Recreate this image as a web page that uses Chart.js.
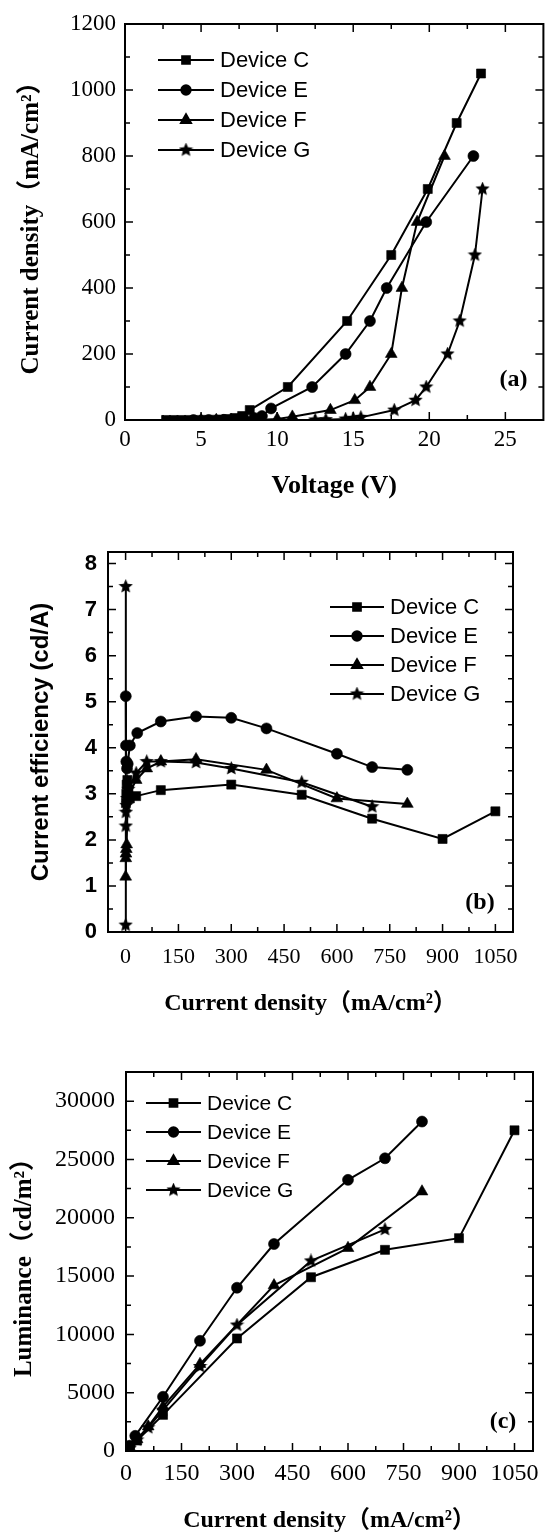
<!DOCTYPE html>
<html>
<head>
<meta charset="utf-8">
<script src="https://cdn.jsdelivr.net/npm/chart.js@4.4.0/dist/chart.umd.min.js"></script>
<style>
html,body{margin:0;padding:0;background:#fff;}
body{width:551px;height:1533px;position:relative;overflow:hidden;}
canvas{position:absolute;left:0;}
</style>
</head>
<body>
<canvas id="cA" width="551" height="515" style="top:0"></canvas>
<canvas id="cB" width="551" height="510" style="top:515px"></canvas>
<canvas id="cC" width="551" height="508" style="top:1025px"></canvas>
<script>
const devices = ['Device C', 'Device E', 'Device F', 'Device G'];

// (a) current density vs voltage
const vC = [2.7, 3.2, 3.7, 4.2, 4.7, 5.2, 5.7, 6.2, 6.7, 7.2, 7.7, 8.2, 10.7, 14.6, 17.5, 19.9, 21.8, 23.4];
const jvC = [0, 0, 0, 0.1, 0.2, 0.4, 0.8, 1.5, 3, 6, 12, 30, 100, 300, 500, 700, 900, 1050];
const vE = [4.5, 5.5, 6.5, 7.5, 8.5, 9.0, 9.6, 12.3, 14.5, 16.1, 17.2, 19.8, 22.9];
const jvE = [0, 0.1, 0.5, 2, 6, 12, 35, 100, 200, 300, 400, 600, 800];
const vF = [5, 6, 7, 8, 9, 10, 11, 13.5, 15.1, 16.1, 17.5, 18.2, 19.2, 21.0];
const jvF = [0, 0, 0, 0.5, 1, 3, 10, 30, 60, 100, 200, 400, 600, 800];
const vG = [12.5, 13.2, 14.5, 15.0, 15.5, 17.7, 19.1, 19.8, 21.2, 22.0, 23.0, 23.5];
const jvG = [0, 1, 3, 5, 8, 30, 60, 100, 200, 300, 500, 700];
const voltTicks = [0, 5, 10, 15, 20, 25];
const jTicksA = [0, 200, 400, 600, 800, 1000, 1200];

// (b) current efficiency vs current density
const bjC = [1, 2, 3, 5, 8, 12, 30, 100, 300, 500, 700, 900, 1050];
const effC = [2.8, 3.0, 3.2, 3.3, 3.1, 2.9, 2.95, 3.08, 3.2, 2.98, 2.46, 2.02, 2.62];
const bjE = [0.5, 1, 2, 4, 6, 12, 33, 100, 200, 300, 400, 600, 700, 800];
const effE = [5.12, 4.05, 3.7, 3.55, 3.65, 4.05, 4.32, 4.57, 4.68, 4.65, 4.42, 3.87, 3.58, 3.52];
const bjF = [0.2, 0.5, 1, 2, 3, 6, 10, 30, 60, 100, 200, 400, 600, 800];
const effF = [1.2, 1.6, 1.7, 1.8, 1.9, 2.9, 3.0, 3.3, 3.55, 3.7, 3.75, 3.52, 2.9, 2.78];
const bjG = [0.1, 0.3, 0.6, 1, 2, 4, 8, 30, 60, 100, 200, 300, 500, 700];
const effG = [0.15, 7.5, 2.3, 2.6, 2.75, 2.9, 3.1, 3.45, 3.7, 3.7, 3.68, 3.55, 3.25, 2.72];
const effTicks = [0, 1, 2, 3, 4, 5, 6, 7, 8];
const jTicksB = [0, 150, 300, 450, 600, 750, 900, 1050];

// (c) luminance vs current density
const cjC = [10, 30, 100, 300, 500, 700, 900, 1050];
const lumC = [350, 900, 3100, 9650, 14900, 17250, 18250, 27500];
const cjE = [10, 25, 100, 200, 300, 400, 600, 700, 800];
const lumE = [450, 1300, 4650, 9450, 14000, 17750, 23250, 25100, 28250];
const cjF = [10, 30, 60, 100, 200, 400, 600, 800];
const lumF = [300, 1000, 2100, 3800, 7450, 14200, 17400, 22250];
const cjG = [10, 30, 60, 100, 200, 300, 500, 700];
const lumG = [250, 950, 2000, 3500, 7250, 10800, 16300, 19000];
const lumTicks = [0, 5000, 10000, 15000, 20000, 25000, 30000];

const SERIF = "'Liberation Serif', 'Noto Sans CJK SC', serif";
const SANS = "'Liberation Sans', Arial, sans-serif";

function makeStar(size) {
  const c = document.createElement('canvas');
  c.width = c.height = size;
  const g = c.getContext('2d');
  const r = size / 2, ri = r * 0.45;
  g.beginPath();
  for (let i = 0; i < 10; i++) {
    const a = -Math.PI / 2 + i * Math.PI / 5;
    const rr = i % 2 ? ri : r;
    g.lineTo(r + rr * Math.cos(a), r + rr * Math.sin(a));
  }
  g.closePath();
  g.fillStyle = '#000';
  g.fill();
  return c;
}
const star = makeStar(15);
const marks = [
  {pointStyle: 'rect', pointRadius: 6.4},
  {pointStyle: 'circle', pointRadius: 5.5},
  {pointStyle: 'triangle', pointRadius: 6.8},
  {pointStyle: star, pointRadius: 7},
];

function series(xs, ys, i) {
  return Object.assign({
    label: devices[i],
    data: xs.map((x, k) => ({x: x, y: ys[k]})),
    showLine: true, tension: 0,
    borderColor: '#000', backgroundColor: '#000', borderWidth: 2,
    pointBackgroundColor: '#000', pointBorderColor: '#000', pointBorderWidth: 0.6,
  }, marks[i]);
}

function axis(o) {
  return {
    type: 'linear', position: o.pos, min: o.min, max: o.max,
    grid: {display: false, drawTicks: false}, border: {display: false},
    afterBuildTicks: s => { s.ticks = o.ticks.map(v => ({value: v})); },
    afterFit: s => {
      if (o.pos === 'left') s.width = o.size; else s.height = o.size;
      s.paddingLeft = s.paddingRight = s.paddingTop = s.paddingBottom = 0;
    },
    ticks: {autoSkip: false, maxRotation: 0, color: '#000', padding: o.pad, font: o.tickFont, callback: v => String(v)},
    title: {display: true, text: o.title, color: '#000', font: o.titleFont, padding: o.titlePad},
  };
}

// box, inward ticks, legend and panel tag
const framePlugin = {
  id: 'frame',
  afterDraw(chart, args, opts) {
    const {ctx, chartArea: a, scales: {x, y}} = chart;
    const tickSet = s => {
      const v = s.ticks.map(t => t.value), out = [];
      v.forEach((t, i) => { out.push([t, 8]); if (i < v.length - 1) out.push([(t + v[i + 1]) / 2, 5]); });
      const step = v[1] - v[0];
      if (v[v.length - 1] + step / 2 < s.max) out.push([v[v.length - 1] + step / 2, 5]);
      if (v[0] - step / 2 > s.min) out.push([v[0] - step / 2, 5]);
      return out;
    };
    ctx.save();
    ctx.strokeStyle = '#000';
    ctx.lineWidth = 1.5;
    ctx.beginPath();
    tickSet(x).forEach(([v, len]) => {
      const p = x.getPixelForValue(v);
      ctx.moveTo(p, a.bottom); ctx.lineTo(p, a.bottom - len);
      ctx.moveTo(p, a.top); ctx.lineTo(p, a.top + len);
    });
    tickSet(y).forEach(([v, len]) => {
      const p = y.getPixelForValue(v);
      ctx.moveTo(a.left, p); ctx.lineTo(a.left + len, p);
      ctx.moveTo(a.right, p); ctx.lineTo(a.right - len, p);
    });
    ctx.stroke();
    ctx.lineWidth = 2;
    ctx.strokeRect(a.left, a.top, a.right - a.left, a.bottom - a.top);

    // legend
    const L = opts.legend;
    ctx.font = L.size + 'px ' + SANS;
    ctx.textBaseline = 'middle';
    ctx.textAlign = 'left';
    chart.data.datasets.forEach((ds, i) => {
      const yy = L.y + i * L.dy;
      ctx.lineWidth = 2;
      ctx.beginPath();
      ctx.moveTo(L.x, yy); ctx.lineTo(L.x + L.len, yy);
      ctx.stroke();
      ctx.fillStyle = '#000';
      Chart.helpers.drawPoint(ctx, {pointStyle: ds.pointStyle, radius: ds.pointRadius * 0.85, rotation: 0, borderWidth: 0.6}, L.x + L.len / 2, yy);
      ctx.fillStyle = '#000';
      ctx.fillText(ds.label, L.x + L.len + 6, yy + 1);
    });

    // panel tag
    const T = opts.tag;
    ctx.font = 'bold 24px ' + SERIF;
    ctx.textAlign = 'center';
    ctx.fillText(T.text, a.right + T.dx, a.bottom + T.dy);
    ctx.restore();
  }
};

function make(id, datasets, xAxis, yAxis, pad, legend, tag) {
  return new Chart(document.getElementById(id), {
    type: 'scatter',
    data: {datasets: datasets},
    options: {
      responsive: false, animation: false, devicePixelRatio: 1, events: [],
      layout: {padding: pad},
      scales: {x: xAxis, y: yAxis},
      plugins: {legend: {display: false}, tooltip: {enabled: false}, frame: {legend: legend, tag: tag}},
    },
    plugins: [framePlugin],
  });
}

make('cA',
  [series(vC, jvC, 0), series(vE, jvE, 1), series(vF, jvF, 2), series(vG, jvG, 3)],
  axis({pos: 'bottom', min: 0, max: 27.5, ticks: voltTicks, size: 95, pad: 6,
    tickFont: {family: SERIF, size: 23}, title: 'Voltage (V)',
    titleFont: {family: SERIF, size: 26, weight: 'bold'}, titlePad: {top: 0, bottom: 13}}),
  axis({pos: 'left', min: 0, max: 1200, ticks: jTicksA, size: 125, pad: 9,
    tickFont: {family: SERIF, size: 23}, title: 'Current density（mA/cm²）',
    titleFont: {family: SERIF, size: 25, weight: 'bold'}, titlePad: {top: 17, bottom: 0}}),
  {left: 0, right: 3, top: 24, bottom: 0},
  {x: 158, y: 60, dy: 30, len: 56, size: 22},
  {text: '(a)', dx: -30, dy: -40});

make('cB',
  [series(bjC, effC, 0), series(bjE, effE, 1), series(bjF, effF, 2), series(bjG, effG, 3)],
  axis({pos: 'bottom', min: -50, max: 1100, ticks: jTicksB, size: 93, pad: 12,
    tickFont: {family: SERIF, size: 22}, title: 'Current density（mA/cm²）',
    titleFont: {family: SERIF, size: 24, weight: 'bold'}, titlePad: {top: 0, bottom: 7}}),
  axis({pos: 'left', min: 0, max: 8.25, ticks: effTicks, size: 108, pad: 11,
    tickFont: {family: SANS, size: 22, weight: 'bold'}, title: 'Current efficiency (cd/A)',
    titleFont: {family: SANS, size: 24, weight: 'bold'}, titlePad: {top: 27, bottom: 0}}),
  {left: 0, right: 38, top: 37, bottom: 0},
  {x: 330, y: 92, dy: 29, len: 54, size: 22},
  {text: '(b)', dx: -33, dy: -29});

make('cC',
  [series(cjC, lumC, 0), series(cjE, lumE, 1), series(cjF, lumF, 2), series(cjG, lumG, 3)],
  axis({pos: 'bottom', min: 0, max: 1100, ticks: jTicksB, size: 82, pad: 8,
    tickFont: {family: SERIF, size: 24}, title: 'Current density（mA/cm²）',
    titleFont: {family: SERIF, size: 24, weight: 'bold'}, titlePad: {top: 0, bottom: -2}}),
  axis({pos: 'left', min: 0, max: 32500, ticks: lumTicks, size: 126, pad: 11,
    tickFont: {family: SERIF, size: 24}, title: 'Luminance（cd/m²）',
    titleFont: {family: SERIF, size: 25, weight: 'bold'}, titlePad: {top: 10, bottom: 0}}),
  {left: 0, right: 18, top: 47, bottom: 0},
  {x: 146, y: 78, dy: 29, len: 55, size: 21},
  {text: '(c)', dx: -30, dy: -29});
</script>
</body>
</html>
